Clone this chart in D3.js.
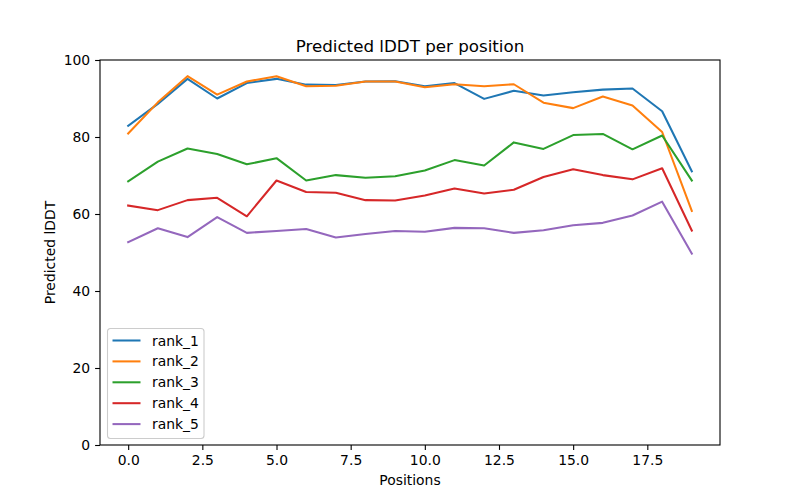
<!DOCTYPE html>
<html>
<head>
<meta charset="utf-8">
<script src="https://cdn.jsdelivr.net/npm/d3@7"></script>
<style>
body{margin:0;background:#fff;}
text{font-family:"DejaVu Sans",sans-serif;}
</style>
</head>
<body>
<div class="content"></div>
<script>
const SVGWIDTH = 800;
const SVGHEIGHT = 500;
const MARGIN = {left:100,right:80,top:60,bottom:55};

const positions = d3.range(20);
const seriesNames = ["rank_1","rank_2","rank_3","rank_4","rank_5"];
const seriesColors = ["#1f77b4","#ff7f0e","#2ca02c","#d62728","#9467bd"];
const rank_1 = [82.9,88.6,95.1,90.0,94.0,95.1,93.6,93.5,94.4,94.5,93.2,94.0,89.9,92.0,90.8,91.6,92.3,92.6,86.7,71.1];
const rank_2 = [80.9,89.0,95.8,91.0,94.4,95.8,93.2,93.3,94.4,94.4,92.9,93.7,93.2,93.7,88.9,87.5,90.5,88.2,81.3,60.8];
const rank_3 = [68.5,73.6,77.0,75.6,72.9,74.5,68.7,70.1,69.4,69.8,71.3,74.0,72.6,78.6,76.9,80.5,80.8,76.8,80.4,68.7];
const rank_4 = [62.2,61.0,63.6,64.2,59.4,68.7,65.7,65.5,63.6,63.5,64.8,66.6,65.3,66.3,69.6,71.6,70.1,69.0,71.9,55.7];
const rank_5 = [52.7,56.3,54.0,59.2,55.1,55.6,56.1,53.9,54.8,55.6,55.4,56.4,56.3,55.1,55.8,57.1,57.7,59.6,63.2,49.7];
const seriesValues = [rank_1,rank_2,rank_3,rank_4,rank_5];
const xTicks = [0,2.5,5,7.5,10,12.5,15,17.5];
const yTicks = [0,20,40,60,80,100];

const svg = d3.select(".content").append("svg").attr("width",SVGWIDTH).attr("height",SVGHEIGHT);
const plotW = SVGWIDTH-MARGIN.left-MARGIN.right;
const plotH = SVGHEIGHT-MARGIN.top-MARGIN.bottom;

// matplotlib style 5% padding on x
let x = d3.scaleLinear().domain([-0.95,19.95]).range([MARGIN.left,MARGIN.left+plotW]);
let y = d3.scaleLinear().domain([0,100]).range([MARGIN.top+plotH,MARGIN.top]);

//lines
let line = d3.line().x((d,i)=>x(positions[i])).y(d=>y(d));
svg.append("g").selectAll("path")
    .data(seriesValues)
    .join("path")
    .attr("d",line)
    .attr("fill","none")
    .attr("stroke",(d,i)=>seriesColors[i])
    .attr("stroke-width",2.05)
    .attr("stroke-linejoin","round")
    .attr("stroke-linecap","square");

//axes
let xAxis = d3.axisBottom(x).tickValues(xTicks).tickFormat(d3.format(".1f")).tickSize(4.9).tickPadding(4.9);
let yAxis = d3.axisLeft(y).tickValues(yTicks).tickFormat(d3.format("d")).tickSize(4.9).tickPadding(4.9);
let gx = svg.append("g").attr("transform","translate(0,"+(MARGIN.top+plotH)+")").call(xAxis);
let gy = svg.append("g").attr("transform","translate("+MARGIN.left+",0)").call(yAxis);
[gx,gy].forEach(g=>{
    g.select(".domain").remove();
    g.selectAll("line").attr("stroke","black").attr("stroke-width",1.1);
    g.selectAll("text").attr("font-size","13.9px").attr("fill","black").style("font-family","DejaVu Sans");
});

//frame
svg.append("rect").attr("x",MARGIN.left).attr("y",MARGIN.top).attr("width",plotW).attr("height",plotH)
    .attr("fill","none").attr("stroke","black").attr("stroke-width",1.1);

//labels
svg.append("text").text("Predicted lDDT per position").attr("x",MARGIN.left+plotW/2).attr("y",MARGIN.top-8)
    .attr("text-anchor","middle").attr("font-size","16.7px");
svg.append("text").text("Positions").attr("x",MARGIN.left+plotW/2).attr("y",485)
    .attr("text-anchor","middle").attr("font-size","13.9px");
svg.append("text").text("Predicted lDDT").attr("transform","translate(55,"+(MARGIN.top+plotH/2)+") rotate(-90)")
    .attr("text-anchor","middle").attr("font-size","13.9px");

//legend
let legend = svg.append("g").attr("transform","translate(107.5,328.5)");
legend.append("rect").attr("width",96.5).attr("height",110).attr("rx",3)
    .attr("fill","white").attr("fill-opacity",0.8).attr("stroke","#cccccc").attr("stroke-width",1.1);
let items = legend.selectAll("g").data(seriesNames).join("g")
    .attr("transform",(d,i)=>"translate(0,"+(12+i*20.9)+")");
items.append("line").attr("x1",5).attr("x2",33).attr("stroke",(d,i)=>seriesColors[i]).attr("stroke-width",2.05);
items.append("text").text(d=>d).attr("x",44.5).attr("y",5).attr("font-size","13.9px");
</script>
</body>
</html>
